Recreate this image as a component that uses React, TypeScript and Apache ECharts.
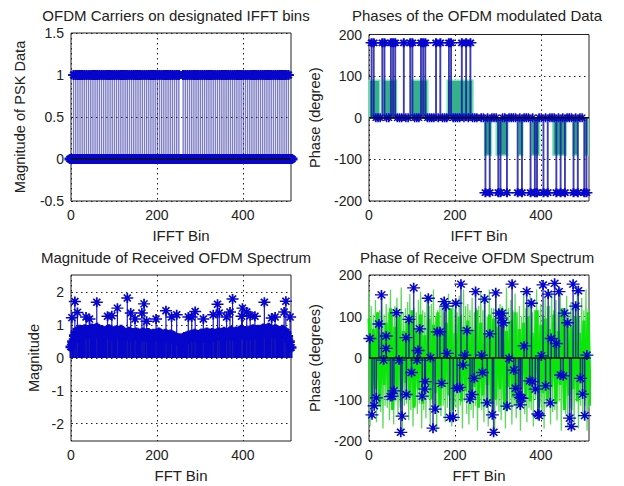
import React, { useEffect, useRef } from "react";
import * as echarts from "echarts";

const FONT = "'Liberation Sans', Arial, sans-serif";
const BLUE = "#0606cc";

const titles = [
  "OFDM Carriers on designated IFFT bins",
  "Phases of the OFDM modulated Data",
  "Magnitude of Received OFDM Spectrum",
  "Phase of Receive OFDM Spectrum",
];
const xNames = ["IFFT Bin", "IFFT Bin", "FFT Bin", "FFT Bin"];
const yNames = ["Magnitude of PSK Data", "Phase (degree)", "Magnitude", "Phase (degrees)"];
const xTicks = [0, 200, 400];
const yTicksMag = [-0.5, 0, 0.5, 1, 1.5];
const yTicksPhase = [-200, -100, 0, 100, 200];
const yTicksRecv = [-2, -1, 0, 1, 2];

// Panel 1
const carriers = [6,11,16,21,26,31,36,41,46,51,56,61,66,71,76,81,86,91,96,101,106,111,116,121,126,131,136,141,146,151,156,161,166,171,176,181,186,191,196,201,206,211,216,221,226,231,236,241,246,251,
  261,266,271,276,281,286,291,296,301,306,311,316,321,326,331,336,341,346,351,356,361,366,371,376,381,386,391,396,401,406,411,416,421,426,431,436,441,446,451,456,461,466,471,476,481,486,491,496,501,506];
const idleBins = [0,4,8,13,18,23,28,33,38,43,48,53,58,63,68,73,78,83,88,93,98,103,108,113,118,123,128,133,138,143,148,153,158,163,168,173,178,183,188,193,198,203,208,213,218,223,228,233,238,243,248,253,256,259,263,268,273,278,283,288,293,298,303,308,313,318,323,328,333,338,343,348,353,358,363,368,373,378,383,388,393,398,403,408,413,418,423,428,433,438,443,448,453,458,463,468,473,478,483,488,493,498,503,508,512];

// Panel 2
const phase180 = [6,11,31,36,51,56,61,81,96,101,121,126,131,156,166,186,191,216,226,236];
const phaseNeg180 = [271,281,301,306,321,346,356,376,386,391,406,416,436,446,456,476,486,501,506];
const phaseZero = [16,21,26,41,46,66,71,76,86,91,106,111,116,136,141,146,151,161,171,176,181,196,201,206,211,221,231,241,246,251,261,266,276,286,291,296,311,316,326,331,336,341,351,361,366,371,381,396,401,411,421,426,431,441,451,461,466,471,481,491,496];
const greenPosRanges = [[0,25],[33,64],[98,137],[182,242]];
const greenNegRanges = [[269,285],[296,323],[347,358],[378,397],[428,459],[475,486],[502,510]];

// Panel 3
const magBins = [0,4,8,12,16,20,24,28,32,36,40,44,48,52,56,60,64,68,72,76,80,84,88,92,96,100,104,108,112,116,120,124,128,132,136,140,144,148,152,156,160,164,168,172,176,180,184,188,192,196,200,204,208,212,216,220,224,228,232,236,240,244,248,252,256,260,264,268,272,276,280,284,288,292,296,300,304,308,312,316,320,324,328,332,336,340,344,348,352,356,360,364,368,372,376,380,384,388,392,396,400,404,408,412,416,420,424,428,432,436,440,444,448,452,456,460,464,468,472,476,480,484,488,492,496,500,504,508,512];
const magValues = [0.34,0.5,0.68,0.8,0.66,0.86,0.74,0.82,0.88,0.72,0.85,0.78,0.9,0.75,0.86,0.92,0.8,0.68,0.85,0.76,0.7,0.82,0.88,0.74,0.78,0.66,0.84,0.76,0.8,0.86,0.72,0.78,0.68,0.74,0.8,0.65,0.76,0.7,0.78,0.67,0.74,0.64,0.78,0.71,0.65,0.76,0.68,0.62,0.74,0.66,0.7,0.78,0.63,0.71,0.66,0.74,0.6,0.68,0.72,0.58,0.66,0.62,0.54,0.6,0.5,0.58,0.64,0.55,0.68,0.62,0.71,0.65,0.74,0.63,0.7,0.66,0.75,0.61,0.68,0.78,0.66,0.72,0.76,0.65,0.74,0.68,0.78,0.7,0.64,0.8,0.72,0.68,0.76,0.82,0.68,0.74,0.81,0.66,0.78,0.86,0.72,0.82,0.78,0.68,0.84,0.74,0.88,0.8,0.72,0.86,0.78,0.82,0.9,0.76,0.84,0.92,0.74,0.86,0.78,0.88,0.72,0.82,0.8,0.86,0.76,0.78,0.66,0.5,0.32];
const magPeakBins = [2,9,15,35,43,60,85,95,108,131,139,149,165,170,176,198,221,234,246,273,281,289,308,331,341,345,362,370,376,397,399,409,417,428,450,467,475,496,500,510];
const magPeakValues = [1.23,1.72,1.39,1.25,1.19,1.7,1.27,1.29,1.52,1.83,1.37,1.19,1.37,1.65,1.12,1.19,1.44,1.25,1.32,1.25,1.25,1.42,1.19,1.32,1.64,1.37,1.25,1.4,1.8,1.27,1.52,1.4,1.29,1.27,1.7,1.22,1.25,1.4,1.73,1.25];

// Panel 4
const recvBins = [2,7,12,17,23,29,34,40,40,50,54,58,64,70,74,77,86,87,93,99,104,112,114,118,124,130,131,138,143,149,154,159,165,169,175,179,182,188,196,202,205,211,214,219,223,228,235,240,245,248,
  262,264,269,275,281,287,290,295,302,310,308,313,321,326,333,337,341,348,352,356,352,361,367,374,380,378,387,393,396,401,405,411,417,422,424,432,436,442,446,452,455,462,467,471,475,481,487,492,497,502,507];
const recvPhases = [47,-137,-115,-96,82,152,-5,53,23,-93,-92,-79,109,-5,-179,-140,49,-88,93,-35,169,-5,18,70,-92,-75,-57,144,1,-169,-123,63,63,-61,136,125,11,-143,-143,132,-73,-71,178,-17,7,66,-99,-88,-49,160,
  7,-35,142,-108,58,-137,-179,157,108,108,96,85,-116,-1,178,-29,-73,-89,-95,-97,-113,29,160,-55,-57,132,-75,-135,-139,5,176,-67,154,-108,47,180,35,160,-41,-43,108,85,-145,-165,178,125,162,-49,-87,-139,7];
const greenHigh = [160,125,105,140,110,115,150,105,130,110,165,115,125,145,100,170,110,120,135,155,105,120,110,140,160,115,110,150,125,130,165,100,115,125,145,110,115,155,120,135,120,110,150,105,165,125,130,115,145,110,120,125,160,115,140,100,165,120,120,150,115,130,125,110,170,120,140,115,155,110,125,100,160,120,135,150,110,115,165,115,130,105,145,125,125,160,115,140,110,170,120,120,150,110,135,120,115,160,100,145,115,165,120];
const greenLow = [-165,-120,-110,-155,-115,-130,-170,-115,-120,-150,-110,-160,-105,-140,-120,-175,-115,-110,-150,-125,-165,-115,-135,-110,-170,-125,-145,-100,-160,-110,-125,-175,-120,-140,-115,-155,-120,-130,-165,-115,-120,-150,-115,-170,-105,-135,-160,-125,-145,-115,-175,-110,-125,-155,-120,-165,-110,-140,-175,-115,-130,-150,-100,-170,-125,-120,-160,-115,-145,-110,-175,-115,-135,-155,-120,-125,-165,-100,-150,-110,-140,-170,-120,-115,-160,-130,-125,-150,-105,-175,-110,-135,-165,-120,-125,-155,-100,-170,-115,-145,-115,-175,-120];
const greenCoreHigh = [95,70,110,60,85,120,75,100,65,90,115,70,105,55,95,80,110,65,85,120,60,100,75,90,70,115,85,60,105,95,75,120,65,90,110,70,85,100,60,115,80,95,70,105,65,120,85,75,100,60,90,110];
const greenCoreLow = [-100,-75,-115,-65,-90,-125,-70,-105,-60,-95,-120,-75,-110,-60,-100,-85,-115,-70,-90,-125,-65,-105,-80,-95,-70,-120,-90,-65,-110,-100,-75,-125,-70,-95,-115,-75,-90,-105,-60,-120,-85,-100,-70,-110,-65,-125,-90,-75,-105,-60,-95,-115];

const STAR = "path://M-6 0L6 0M0 -5L0 5M-3.5 -3.5L3.5 3.5M-3.5 3.5L3.5 -3.5";

function stems(g: number, bins: number[], vals: number[], color: string, width: number, opacity = 1) {
  return {
    type: "custom", xAxisIndex: g, yAxisIndex: g, silent: true, z: 3,
    data: bins.map((b, i) => [b, vals[i]]),
    renderItem: (_: any, api: any) => {
      const a = api.coord([api.value(0), 0]);
      const b = api.coord([api.value(0), api.value(1)]);
      return { type: "line", shape: { x1: a[0], y1: a[1], x2: b[0], y2: b[1] }, style: { stroke: color, lineWidth: width, opacity } };
    },
  };
}
function stars(g: number, bins: number[], vals: number[], size: number[], width: number) {
  return {
    type: "scatter", xAxisIndex: g, yAxisIndex: g, silent: true, z: 5, clip: false,
    symbol: STAR, symbolSize: size,
    itemStyle: { color: "transparent", borderColor: BLUE, borderWidth: width, opacity: 1 },
    data: bins.map((b, i) => [b, vals[i]]),
  };
}
function blocks(g: number, ranges: number[][], height: number, color: string) {
  return {
    type: "custom", xAxisIndex: g, yAxisIndex: g, silent: true, z: 2,
    data: ranges.map((r) => [r[0], r[1], height]),
    renderItem: (_: any, api: any) => {
      const a = api.coord([api.value(0), 0]);
      const b = api.coord([api.value(1), api.value(2)]);
      return {
        type: "rect",
        shape: { x: a[0], y: Math.min(a[1], b[1]), width: b[0] - a[0], height: Math.abs(a[1] - b[1]) },
        style: { fill: color, stroke: "#7ce8b2", lineWidth: 1.5 },
      };
    },
  };
}
function baseline(g: number) {
  return {
    type: "line", xAxisIndex: g, yAxisIndex: g, silent: true, z: 6, symbol: "none",
    lineStyle: { color: "#111", width: 1.5 }, data: [[0, 0], [512, 0]],
  };
}

const grids = [
  { left: 71, top: 33, width: 220, height: 168 },
  { left: 369, top: 34.5, width: 220, height: 166.5 },
  { left: 71, top: 275, width: 220, height: 166 },
  { left: 369, top: 275, width: 220, height: 166 },
];
const yCfg = [
  { min: -0.5, max: 1.5, ticks: yTicksMag, gap: 44 },
  { min: -200, max: 200, ticks: yTicksPhase, gap: 47 },
  { min: -2.53, max: 2.53, ticks: yTicksRecv, gap: 30 },
  { min: -200, max: 200, ticks: yTicksPhase, gap: 47 },
];

export default function App() {
  const ref = useRef<HTMLDivElement>(null);
  useEffect(() => {
    const chart = echarts.init(ref.current!, undefined, { renderer: "svg" });
    const split = { show: true, lineStyle: { color: "#222", type: [1.5, 3.5], width: 1 } };
    const tick = (v: number[]) => ({ show: true, inside: true, length: 2, customValues: v, lineStyle: { color: "#222" } });
    const mag1 = carriers.map(() => 1);
    chart.setOption({
      animation: false,
      backgroundColor: "#fff",
      textStyle: { fontFamily: FONT },
      title: titles.map((t, i) => ({
        text: t,
        left: i % 2 === 0 ? 171 : 472,
        textAlign: "center",
        top: i < 2 ? 3 : 245,
        textStyle: { fontFamily: FONT, fontSize: 15, fontWeight: "normal", color: "#222" },
      })),
      grid: grids.map((g) => ({ ...g, show: true, borderColor: "#222", borderWidth: 1, backgroundColor: "#fff", containLabel: false })),
      xAxis: grids.map((_, i) => ({
        type: "value", gridIndex: i, min: 0, max: 512,
        name: xNames[i], nameLocation: "middle", nameGap: 27,
        nameTextStyle: { fontFamily: FONT, fontSize: 15, color: "#222" },
        axisLine: { show: false }, axisTick: tick(xTicks), splitLine: split,
        axisLabel: { customValues: xTicks, fontFamily: FONT, fontSize: 14, color: "#222", margin: 7, showMinLabel: true, showMaxLabel: true },
      })),
      yAxis: yCfg.map((c, i) => ({
        type: "value", gridIndex: i, min: c.min, max: c.max,
        name: yNames[i], nameLocation: "middle", nameGap: c.gap,
        nameTextStyle: { fontFamily: FONT, fontSize: 14.6, color: "#222" },
        axisLine: { show: false }, axisTick: tick(c.ticks), splitLine: split,
        axisLabel: { customValues: c.ticks, fontFamily: FONT, fontSize: 14, color: "#222", margin: 7, showMinLabel: true, showMaxLabel: true },
      })),
      series: [
        stems(0, carriers, mag1, "#2c2ca0", 1.4, 0.62),
        stars(0, idleBins, idleBins.map(() => 0), [13, 10], 3.4),
        stars(0, carriers, mag1, [11, 10], 2.2),
        baseline(0),

        blocks(1, greenPosRanges, 90, "#35b08c"),
        blocks(1, greenNegRanges, -90, "#2f9f88"),
        stems(1, phase180, phase180.map(() => 180), "#1a1aa8", 1.9, 0.85),
        stems(1, phaseNeg180, phaseNeg180.map(() => -180), "#1a1aa8", 1.9, 0.85),
        stars(1, phase180, phase180.map(() => 180), [12, 9], 1.8),
        stars(1, phaseNeg180, phaseNeg180.map(() => -180), [12, 9], 1.8),
        stars(1, phaseZero, phaseZero.map(() => 0), [11, 9], 1.4),
        baseline(1),

        stems(2, magBins, magValues, BLUE, 3),
        stems(2, magPeakBins, magPeakValues, "#1a1ab0", 1.2),
        stars(2, magBins, magValues, [11, 10], 2.8),
        stars(2, magPeakBins, magPeakValues, [12, 10], 1.6),

        {
          type: "line", xAxisIndex: 3, yAxisIndex: 3, silent: true, z: 2, symbol: "none",
          lineStyle: { color: "#5fd85f", width: 1.3 },
          data: greenHigh.flatMap((v, i) => [[i * 5, v], [i * 5 + 2.5, greenLow[i]]]),
        },
        {
          type: "line", xAxisIndex: 3, yAxisIndex: 3, silent: true, z: 2, symbol: "none",
          lineStyle: { color: "#0ae60a", width: 3 },
          data: greenCoreHigh.flatMap((v, i) => [[i * 10, v], [i * 10 + 5, greenCoreLow[i]]]),
        },
        stems(3, recvBins, recvPhases, "#1a1a9e", 1.5, 0.85),
        stars(3, recvBins, recvPhases, [13, 10], 1.5),
        baseline(3),
      ],
    });
    return () => chart.dispose();
  }, []);
  return <div ref={ref} style={{ position: "absolute", left: 0, top: 0, width: 624, height: 486 }} />;
}
